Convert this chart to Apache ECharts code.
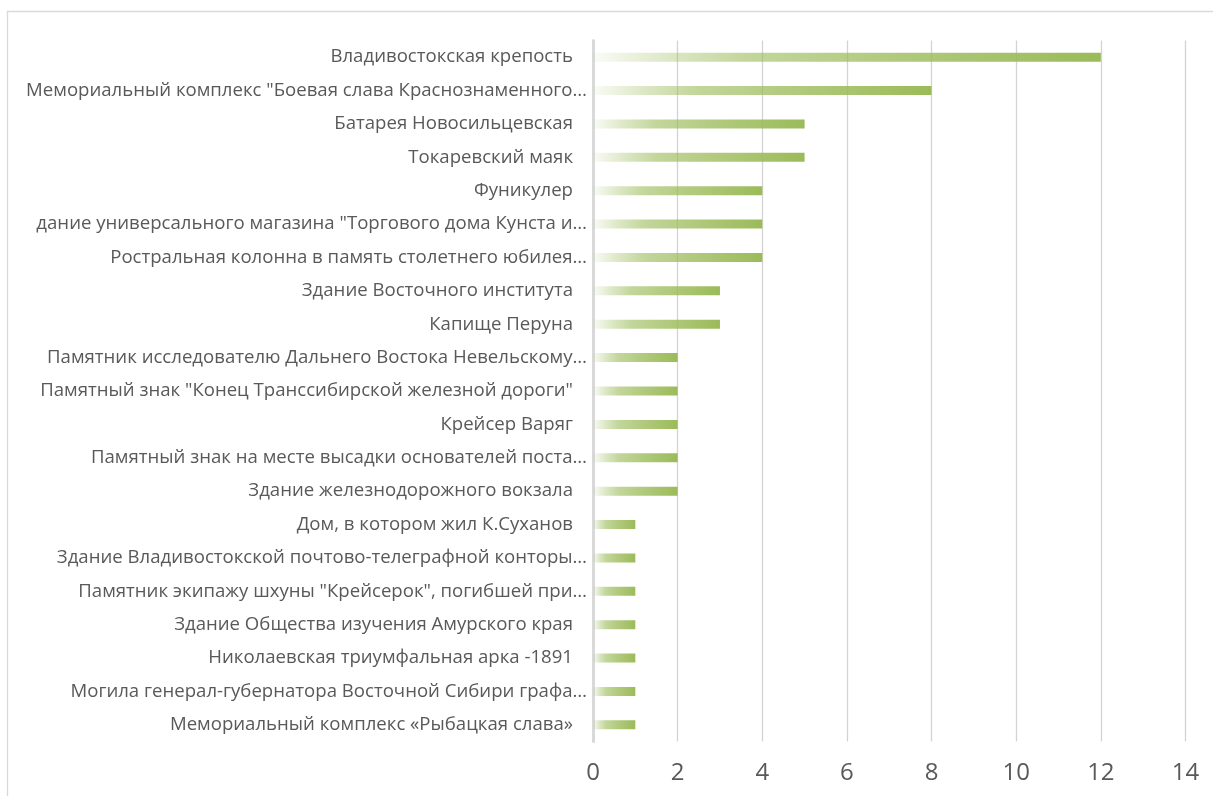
<!DOCTYPE html>
<html>
<head>
<meta charset="utf-8">
<script src="https://cdn.jsdelivr.net/npm/echarts@6/dist/echarts.min.js"></script>
<style>
html,body{margin:0;padding:0;background:#fff;}
#c{width:1213px;height:796px;}
</style>
</head>
<body>
<div id="c"></div>
<script>
const categories = [
  'Владивостокская крепость',
  'Мемориальный комплекс "Боевая слава Краснознаменного…',
  'Батарея Новосильцевская',
  'Токаревский маяк',
  'Фуникулер',
  'дание универсального магазина "Торгового дома Кунста и…',
  'Ростральная колонна в память столетнего юбилея…',
  'Здание Восточного института',
  'Капище Перуна',
  'Памятник исследователю Дальнего Востока Невельскому…',
  'Памятный знак "Конец Транссибирской железной дороги"',
  'Крейсер Варяг',
  'Памятный знак на месте высадки основателей поста…',
  'Здание железнодорожного вокзала',
  'Дом, в котором жил К.Суханов',
  'Здание Владивостокской почтово-телеграфной конторы…',
  'Памятник экипажу шхуны "Крейсерок", погибшей при…',
  'Здание Общества изучения Амурского края',
  'Николаевская триумфальная арка -1891',
  'Могила генерал-губернатора Восточной Сибири графа…',
  'Мемориальный комплекс «Рыбацкая слава»'
];
const values = [12, 8, 5, 5, 4, 4, 4, 3, 3, 2, 2, 2, 2, 2, 1, 1, 1, 1, 1, 1, 1];
const xTicks = [0, 2, 4, 6, 8, 10, 12, 14];

const chart = echarts.init(document.getElementById('c'));
const green = (a) => 'rgba(155,187,89,' + a + ')';
const labelFont = 'Open Sans';
chart.setOption({
  animation: false,
  backgroundColor: '#fff',
  graphic: [{
    type: 'rect', silent: true, z: -1,
    shape: {x: 7.5, y: 11.5, width: 1250, height: 820},
    style: {fill: 'none', stroke: '#d9d9d9', lineWidth: 1.3}
  }],
  grid: {left: 593, right: 27.5, top: 40.5, bottom: 54.5, containLabel: false},
  xAxis: {
    type: 'value', min: xTicks[0], max: xTicks[xTicks.length - 1], interval: 2,
    axisLine: {show: false}, axisTick: {show: false},
    splitLine: {show: true, lineStyle: {color: '#d3d3d3', width: 1.3}},
    axisLabel: {color: '#595959', fontSize: 24, fontFamily: 'Open Sans', margin: 20}
  },
  yAxis: {
    type: 'category', data: categories, inverse: true,
    axisLine: {show: true, lineStyle: {color: '#d9d9d9', width: 3}},
    axisTick: {show: false},
    axisLabel: {
      interval: 0, margin: 6, color: '#595959', fontSize: 18.6, fontFamily: labelFont,
      formatter: (v) => v.endsWith('…') ? v : '{p|' + v + '}',
      rich: {p: {color: '#595959', fontSize: 18.6, fontFamily: labelFont, padding: [0, 14, 0, 0]}}
    }
  },
  series: [{
    type: 'bar', data: values, barWidth: 9,
    itemStyle: {
      color: new echarts.graphic.LinearGradient(0, 0, 1, 0, [
        {offset: 0, color: green(0.05)},
        {offset: 0.15, color: green(0.35)},
        {offset: 0.3, color: green(0.6)},
        {offset: 0.55, color: green(0.76)},
        {offset: 1, color: green(1)}
      ])
    }
  }]
});
</script>
</body>
</html>
